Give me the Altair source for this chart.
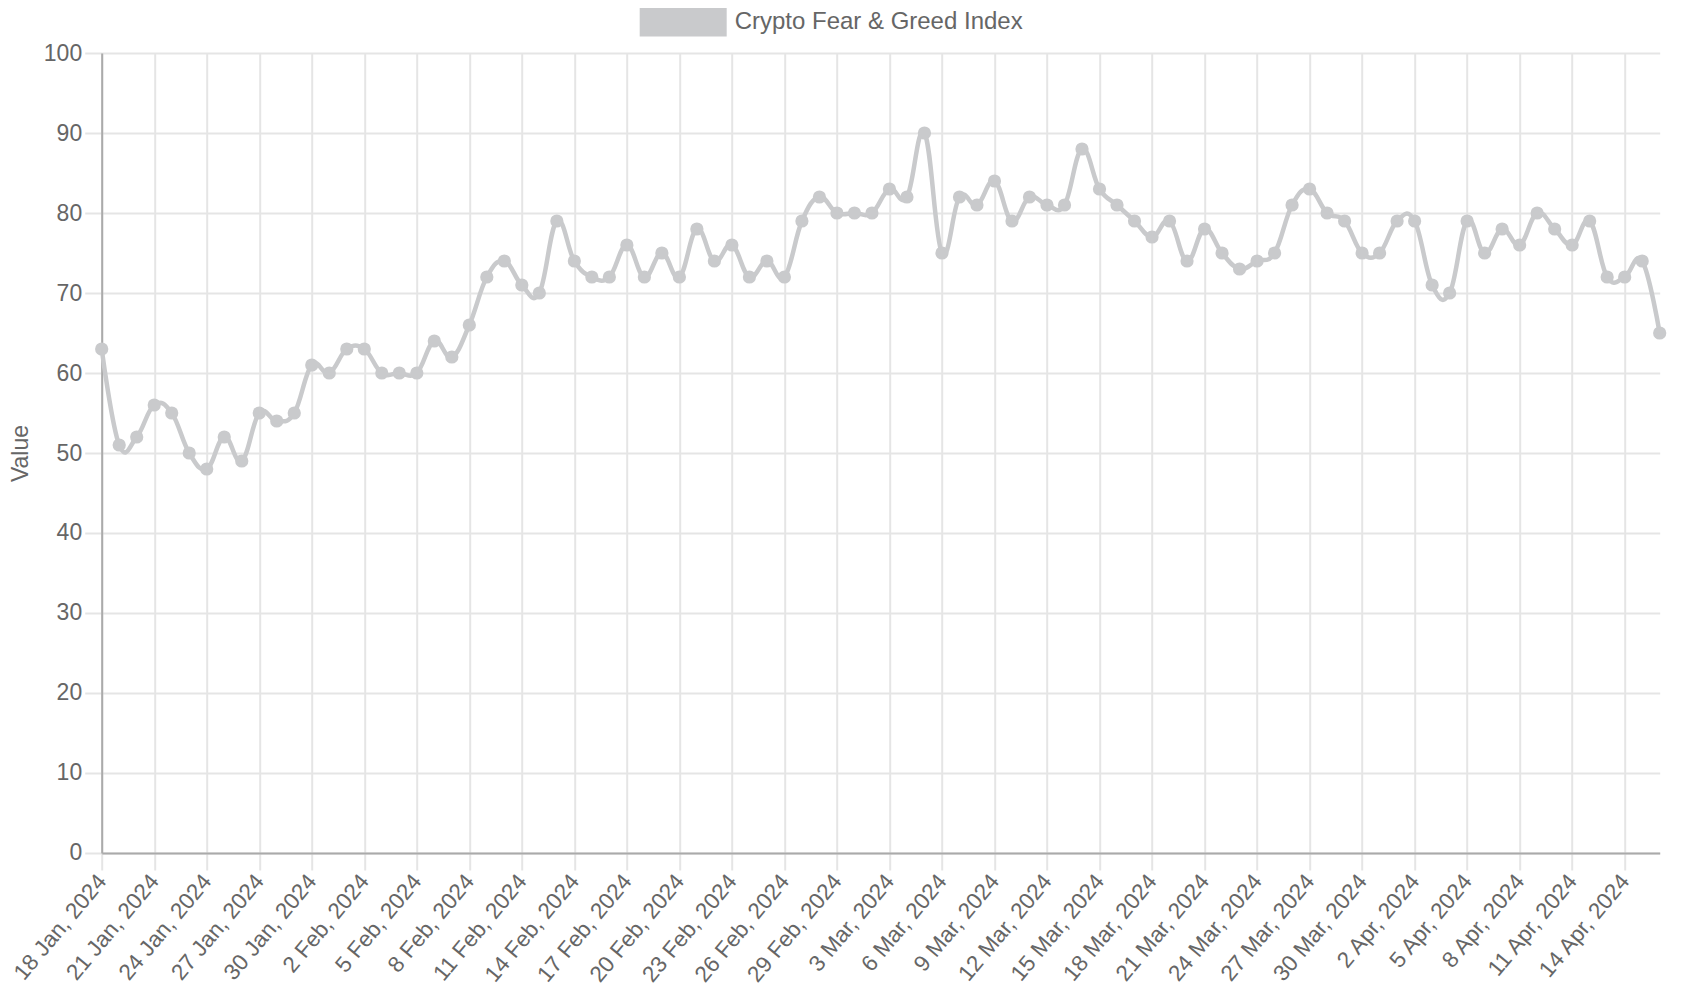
import altair as alt
import pandas as pd

SERIES = "Crypto Fear & Greed Index"
START_DATE = "2024-01-18"
VALUES = [
    63, 51, 52, 56, 55, 50, 48, 52, 49, 55, 54, 55, 61, 60,          # 18-31 Jan
    63, 63, 60, 60, 60, 64, 62, 66, 72, 74, 71, 70, 79, 74, 72, 72,  # 1-16 Feb
    76, 72, 75, 72, 78, 74, 76, 72, 74, 72, 79, 82, 80,              # 17-29 Feb
    80, 80, 83, 82, 90, 75, 82, 81, 84, 79, 82, 81, 81, 88, 83, 81,  # 1-16 Mar
    79, 77, 79, 74, 78, 75, 73, 74, 75, 81, 83, 80, 79, 75, 75,      # 17-31 Mar
    79, 79, 71, 70, 79, 75, 78, 76, 80, 78, 76, 79, 72, 72, 74, 65,  # 1-16 Apr
]
TICK_DATES = [
    "2024-01-18", "2024-01-21", "2024-01-24", "2024-01-27", "2024-01-30",
    "2024-02-02", "2024-02-05", "2024-02-08", "2024-02-11", "2024-02-14",
    "2024-02-17", "2024-02-20", "2024-02-23", "2024-02-26", "2024-02-29",
    "2024-03-03", "2024-03-06", "2024-03-09", "2024-03-12", "2024-03-15",
    "2024-03-18", "2024-03-21", "2024-03-24", "2024-03-27", "2024-03-30",
    "2024-04-02", "2024-04-05", "2024-04-08", "2024-04-11", "2024-04-14",
]
Y_TICKS = [0, 10, 20, 30, 40, 50, 60, 70, 80, 90, 100]

DATES = pd.date_range(START_DATE, periods=len(VALUES), freq="D").strftime("%Y-%m-%d").tolist()
df = pd.DataFrame({"date": DATES, "value": VALUES, "series": SERIES})


def dt(s):
    y, m, d = (int(p) for p in s.split("-"))
    return alt.DateTime(year=y, month=m, date=d, utc=True)


GREY = "#c9cacc"
TEXT = "#666666"
GRID = "#e5e5e5"
AXIS = "#aaaaaa"
FONT = "Liberation Sans"

x_enc = alt.X(
    "date:T",
    scale=alt.Scale(type="utc", domain=[dt(DATES[0]), dt(DATES[-1])], nice=False),
    axis=alt.Axis(
        title=None,
        values=[dt(s) for s in TICK_DATES],
        format="%-d %b, %Y",
        labelAngle=-50,
        labelAlign="right",
        labelBaseline="middle",
        labelOverlap=False,
        labelFlush=False,
        labelFontSize=22.5,
        tickSize=17,
        labelPadding=7,
    ),
)
y_enc = alt.Y(
    "value:Q",
    scale=alt.Scale(domain=[0, 100], nice=False, zero=True),
    axis=alt.Axis(
        title="Value",
        values=Y_TICKS,
        labelFlush=False,
        tickSize=17,
        labelPadding=3,
        titleX=-92,
        titleY=400,
        titleAlign="center",
        titleBaseline="top",
    ),
)

base = alt.Chart(df)
line = base.mark_line(
    interpolate="cardinal", tension=-0.2, strokeWidth=4.5, color=GREY
).encode(x=x_enc, y=y_enc)

points = base.mark_circle(size=175, opacity=1).encode(
    x=x_enc,
    y=y_enc,
    color=alt.Color(
        "series:N",
        scale=alt.Scale(range=[GREY]),
        legend=alt.Legend(
            title=None,
            orient="none",
            legendX=538,
            legendY=-75,
            padding=0,
            symbolType="M-1,-0.345L1,-0.345L1,0.345L-1,0.345Z",
            symbolSize=7569,
            symbolStrokeWidth=0,
            symbolOpacity=1,
            labelFontSize=24,
            labelColor=TEXT,
            labelFont=FONT,
            labelOffset=8,
            labelLimit=0,
        ),
    ),
)

chart = (
    alt.layer(line, points)
    .properties(
        width=1558,
        height=800,
        autosize=alt.AutoSizeParams(type="none"),
        padding={"left": 93.7, "top": 45, "right": 20, "bottom": 140},
    )
    .configure_view(stroke=None)
    .configure_axis(
        labelFont=FONT,
        labelFontSize=23,
        labelColor=TEXT,
        titleFont=FONT,
        titleFontSize=23,
        titleFontWeight="normal",
        titleColor=TEXT,
        gridColor=GRID,
        gridWidth=2,
        tickColor=GRID,
        tickWidth=2,
        domainColor=AXIS,
        domainWidth=2,
    )
)

chart.save("out.html", embed_options={"renderer": "svg", "actions": False})
